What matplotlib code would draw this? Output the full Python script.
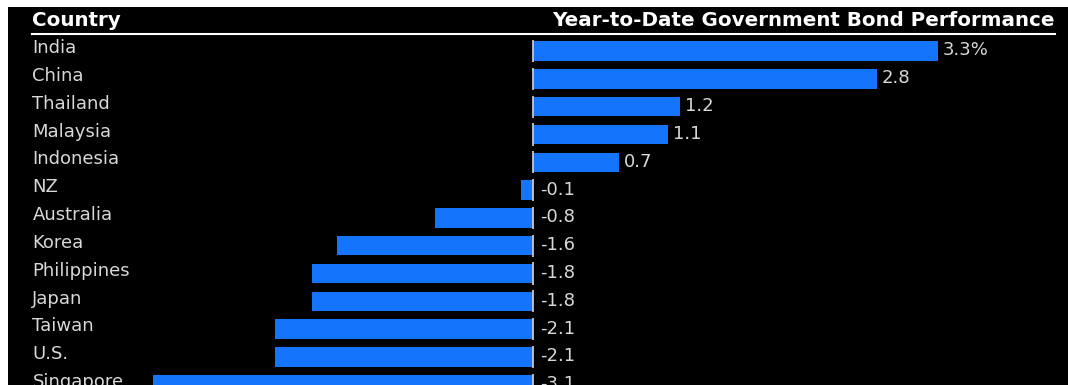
import matplotlib.pyplot as plt
from matplotlib.patches import Rectangle

plt.rcParams['font.family'] = ['DejaVu Sans']

countries = ["India", "China", "Thailand", "Malaysia", "Indonesia", "NZ",
             "Australia", "Korea", "Philippines", "Japan", "Taiwan", "U.S.",
             "Singapore"]
performance = [3.3, 2.8, 1.2, 1.1, 0.7, -0.1, -0.8, -1.6, -1.8, -1.8,
               -2.1, -2.1, -3.1]
value_labels = ["3.3%", "2.8", "1.2", "1.1", "0.7", "-0.1", "-0.8", "-1.6",
                "-1.8", "-1.8", "-2.1", "-2.1", "-3.1"]

bar_color = "#1474fc"
text_color = "#d8d8d8"

fig = plt.figure(figsize=(10.68, 3.85), dpi=100)
fig.patch.set_facecolor("white")

# black panel, leaving a thin white margin top and left
fig.add_artist(Rectangle((8 / 1068, 0), 1 - 8 / 1068, 1 - 7 / 385,
                         transform=fig.transFigure, facecolor="black",
                         edgecolor="none", zorder=0))

ax = fig.add_axes([8 / 1068, 0, 1 - 8 / 1068, 1 - 7 / 385])
ax.patch.set_alpha(0)
ax.set_xlim(-4.279, 4.36)
ax.set_ylim(12.01, -1.583)
ax.axis("off")

rows = range(len(countries))
ax.barh(rows, performance, height=0.7, color=bar_color, zorder=2)

# zero line drawn as short ticks, one per row
ax.vlines([0] * len(countries), [r - 0.4 for r in rows],
          [r + 0.4 for r in rows], color="#c8c8c8", lw=1.3, zorder=3)

label_x = -4.08
for r, name, v, lab in zip(rows, countries, performance, value_labels):
    ax.text(label_x, r - 0.1, name, color=text_color, fontsize=13,
            ha="left", va="center")
    xpos = v + 0.04 if v > 0 else 0.06
    ax.text(xpos, r - 0.02, lab, color=text_color, fontsize=13,
            ha="left", va="center")

# header row
ax.text(label_x, -1.1, "Country", color="white", fontsize=14.3,
        fontweight="bold", ha="left", va="center")
ax.text(4.254, -1.1, "Year-to-Date Government Bond Performance",
        color="white", fontsize=14.3, fontweight="bold", ha="right",
        va="center")
ax.plot([label_x, 4.254], [-0.61, -0.61], color="white", lw=1.5)

fig.savefig("out.png", dpi=100, facecolor=fig.get_facecolor())
